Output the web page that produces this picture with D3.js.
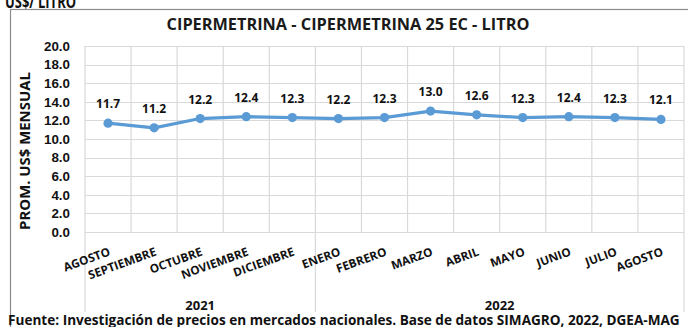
<!DOCTYPE html>
<html>
<head>
<meta charset="utf-8">
<script src="https://cdn.jsdelivr.net/npm/d3@7"></script>
<style>
  body { margin: 0; background: #fff; }
  svg { display: block; font-family: "Open Sans", "DejaVu Sans", sans-serif; font-weight: 700; }
</style>
</head>
<body>
<svg id="chart" width="688" height="327"></svg>
<script>
// Monthly average price, US$ per litre
const months = ["AGOSTO", "SEPTIEMBRE", "OCTUBRE", "NOVIEMBRE", "DICIEMBRE",
                "ENERO", "FEBRERO", "MARZO", "ABRIL", "MAYO", "JUNIO", "JULIO", "AGOSTO"];
const prices = [11.7, 11.2, 12.2, 12.4, 12.3, 12.2, 12.3, 13.0, 12.6, 12.3, 12.4, 12.3, 12.1];
const years = ["2021", "2022"];
const monthsPerYear = [5, 8];
const yTicks = [0, 2, 4, 6, 8, 10, 12, 14, 16, 18, 20];

const chartTitle = "CIPERMETRINA - CIPERMETRINA 25 EC - LITRO";
const yTitle = "PROM. US$ MENSUAL";
const source = "Fuente: Investigación de precios en mercados nacionales. Base de datos SIMAGRO, 2022, DGEA-MAG";
const heading = "US$/ LITRO";

const svg = d3.select("#chart");
const plot = { left: 85, right: 684, top: 46, bottom: 232 };
const gridColor = "#d9d9d9";
const lineColor = "#5b9bd5";

// Shrink or grow a text element's font so it spans a given width
function fitWidth(sel, width) {
  const node = sel.node();
  const base = parseFloat(sel.attr("font-size"));
  const w = node.getComputedTextLength();
  sel.attr("font-size", (base * width / w).toFixed(2));
}

const x = d3.scaleBand().domain(d3.range(months.length)).range([plot.left, plot.right]);
const y = d3.scaleLinear().domain([0, 20]).range([plot.bottom, plot.top]);

// Heading above the chart frame (runs off the page top), set condensed
const h = svg.append("text").attr("font-size", 17).attr("fill", "#111").text(heading);
const hs = 71 / h.node().getComputedTextLength();
h.attr("transform", `translate(5,8) scale(${hs.toFixed(3)},1)`);

// Chart frame
svg.append("rect")
  .attr("x", 10.5).attr("y", 9.5).attr("width", 700).attr("height", 340)
  .attr("fill", "#fff").attr("stroke", "#8c8c8c").attr("stroke-width", 1.2);

// Title
const t = svg.append("text")
  .attr("x", 348).attr("y", 30).attr("text-anchor", "middle")
  .attr("font-size", 15).attr("fill", "#1a1a1a").text(chartTitle);
fitWidth(t, 363);

// Horizontal gridlines
svg.append("g").selectAll("line").data(yTicks).join("line")
  .attr("x1", plot.left).attr("x2", plot.right)
  .attr("y1", d => Math.round(y(d)) + 0.5).attr("y2", d => Math.round(y(d)) + 0.5)
  .attr("stroke", gridColor).attr("stroke-width", 1.2);

// Vertical gridlines at category boundaries; year dividers run down into the axis area
const yearBounds = [0];
monthsPerYear.forEach((n, i) => yearBounds.push(yearBounds[i] + n));
const bounds = d3.range(months.length + 1);
svg.append("g").selectAll("line").data(bounds).join("line")
  .attr("x1", i => (i < months.length ? x(i) : plot.right))
  .attr("x2", i => (i < months.length ? x(i) : plot.right))
  .attr("y1", plot.top)
  .attr("y2", i => (yearBounds.includes(i) ? 312 : plot.bottom))
  .attr("stroke", gridColor).attr("stroke-width", 1.2);

// Y axis labels
const yAxis = d3.axisLeft(y).tickValues(yTicks).tickFormat(d3.format(".1f")).tickSize(0).tickPadding(15);
const yg = svg.append("g").attr("transform", `translate(${plot.left},0)`).call(yAxis);
yg.select(".domain").remove();
yg.selectAll("text").attr("font-size", 13.4).attr("font-family", null).attr("fill", "#111");

// Y axis title
const yt = svg.append("text")
  .attr("transform", "translate(30,151) rotate(-90)")
  .attr("text-anchor", "middle").attr("font-size", 14).attr("fill", "#111").text(yTitle);
fitWidth(yt, 158);

// Line and markers
const cx = i => x(i) + x.bandwidth() / 2;
svg.append("path").datum(prices)
  .attr("d", d3.line().x((d, i) => cx(i)).y(d => y(d)))
  .attr("fill", "none").attr("stroke", lineColor).attr("stroke-width", 3.2)
  .attr("stroke-linejoin", "round");
svg.append("g").selectAll("circle").data(prices).join("circle")
  .attr("cx", (d, i) => cx(i)).attr("cy", d => y(d)).attr("r", 4.6)
  .attr("fill", lineColor);

// Value labels
svg.append("g").selectAll("text").data(prices).join("text")
  .attr("x", (d, i) => cx(i)).attr("y", d => y(d) - 15)
  .attr("text-anchor", "middle").attr("font-size", 12).attr("fill", "#111")
  .text(d => d3.format(".1f")(d));

// Month labels, slanted
svg.append("g").selectAll("text").data(months).join("text")
  .attr("transform", (d, i) => `translate(${cx(i) + 3},255) rotate(-20)`)
  .attr("text-anchor", "end").attr("font-size", 11.8).attr("fill", "#111")
  .text(d => d);

// Year labels centred under their months
svg.append("g").selectAll("text").data(years).join("text")
  .attr("x", (d, i) => {
    const a = x(yearBounds[i]);
    const b = yearBounds[i + 1] < months.length ? x(yearBounds[i + 1]) : plot.right;
    return (a + b) / 2;
  })
  .attr("y", 310).attr("text-anchor", "middle").attr("font-size", 13).attr("fill", "#111")
  .text(d => d);

// Source note
const s = svg.append("text")
  .attr("x", 8).attr("y", 324.5).attr("font-size", 13).attr("fill", "#111").text(source);
fitWidth(s, 672);
</script>
</body>
</html>
